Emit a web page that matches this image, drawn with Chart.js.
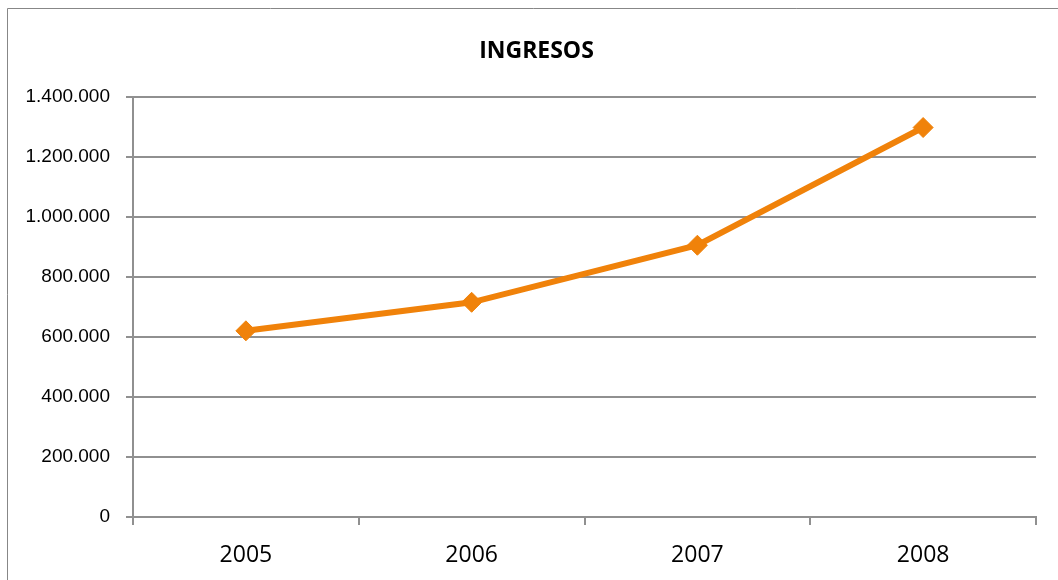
<!DOCTYPE html>
<html>
<head>
<meta charset="utf-8">
<script src="https://cdn.jsdelivr.net/npm/chart.js@4/dist/chart.umd.min.js"></script>
<style>
  html, body { margin: 0; padding: 0; background: #fff; }
  #wrap { width: 1058px; height: 580px; }
</style>
</head>
<body>
<div id="wrap"><canvas id="c" width="1058" height="580"></canvas></div>
<script>
const categories = ['2005', '2006', '2007', '2008'];
const ingresos = [620000, 715000, 905000, 1297000];
const titleText = 'INGRESOS';
const yMin = 0, yMax = 1400000, yStep = 200000;

function fmtES(v) {
  return String(Math.round(v)).replace(/\B(?=(\d{3})+(?!\d))/g, '.');
}

const framePlugin = {
  id: 'frame',
  afterLayout(chart) {
    const tb = chart.titleBlock;
    if (tb) { tb.left = 37; tb.width = tb.right - tb.left; }
  },
  beforeDraw(chart) {
    const ctx = chart.ctx;
    ctx.save();
    ctx.fillStyle = '#fff';
    ctx.fillRect(0, 0, chart.width, chart.height);
    ctx.strokeStyle = '#878787';
    ctx.lineWidth = 1;
    ctx.beginPath();
    ctx.moveTo(7.5, chart.height + 5);
    ctx.lineTo(7.5, 8.5);
    ctx.lineTo(chart.width + 5, 8.5);
    ctx.stroke();
    ctx.restore();
  }
};

const gridColor = '#909090';

new Chart(document.getElementById('c'), {
  type: 'line',
  data: {
    labels: categories,
    datasets: [{
      label: 'Ingresos',
      data: ingresos,
      borderColor: '#F0820A',
      backgroundColor: '#F0820A',
      borderWidth: 6,
      pointStyle: 'rectRot',
      pointRadius: 10,
      pointHoverRadius: 10,
      pointBorderWidth: 1,
      pointBorderColor: '#F0820A',
      pointBackgroundColor: '#F0820A',
      tension: 0,
      fill: false
    }]
  },
  options: {
    responsive: false,
    animation: false,
    layout: { padding: { left: 0, right: 22, top: 0, bottom: 0 } },
    plugins: {
      legend: { display: false },
      tooltip: { enabled: false },
      title: {
        display: true,
        text: titleText,
        color: '#000',
        font: { family: '"Open Sans", sans-serif', size: 23, weight: 'bold', lineHeight: 1.2 },
        padding: { top: 38, bottom: 31 }
      }
    },
    scales: {
      x: {
        type: 'category',
        offset: true,
        afterFit(scale) { scale.height = 63; },
        grid: {
          display: true,
          offset: true,
          drawOnChartArea: false,
          drawTicks: true,
          tickLength: 8,
          color: gridColor,
          lineWidth: 2
        },
        border: { display: true, color: gridColor, width: 2 },
        ticks: {
          color: '#000',
          padding: 17,
          font: { family: '"Open Sans", sans-serif', size: 23 },
          maxRotation: 0
        }
      },
      y: {
        min: yMin,
        max: yMax,
        afterFit(scale) { scale.width = 133; },
        grid: {
          display: true,
          drawOnChartArea: true,
          drawTicks: true,
          tickLength: 7,
          color: gridColor,
          lineWidth: 2
        },
        border: { display: true, color: gridColor, width: 2 },
        ticks: {
          stepSize: yStep,
          color: '#000',
          padding: 16,
          font: { family: '"Liberation Sans", Arial, sans-serif', size: 19 },
          callback: (v) => fmtES(v)
        }
      }
    }
  },
  plugins: [framePlugin]
});
</script>
</body>
</html>
